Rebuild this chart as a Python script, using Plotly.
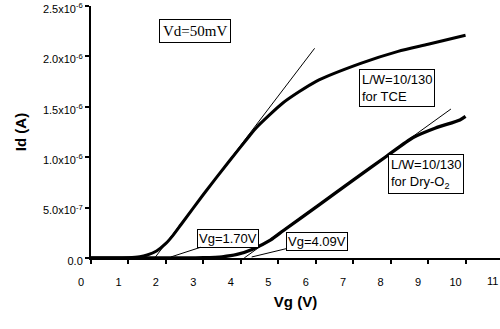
import plotly.graph_objects as go

# ---- data ----
vg_tce = [0, 0.5, 1.0, 1.3, 1.5, 1.75, 2.0, 2.2, 2.4, 3.0, 3.7, 4.24, 4.42, 5.13, 6.0, 7.2, 8.2, 9.0, 10.0]
id_tce = [0, 0, 0.003e-6, 0.012e-6, 0.03e-6, 0.07e-6, 0.145e-6, 0.23e-6, 0.33e-6, 0.63e-6,
          0.965e-6, 1.215e-6, 1.295e-6, 1.54e-6, 1.75e-6, 1.93e-6, 2.05e-6, 2.12e-6, 2.21e-6]

vg_dry = [0, 2.5, 3.0, 3.5, 3.9, 4.3, 4.8, 5.13, 6.1, 7.0, 7.9, 8.6, 9.2, 9.85, 10.0]
id_dry = [0, 0, 0.003e-6, 0.012e-6, 0.035e-6, 0.085e-6, 0.18e-6, 0.27e-6, 0.53e-6, 0.772e-6,
          1.012e-6, 1.195e-6, 1.29e-6, 1.37e-6, 1.405e-6]

tan_tce_x = [1.70, 5.97]
tan_tce_y = [0, 2.08e-6]
tan_dry_x = [4.09, 9.61]
tan_dry_y = [0, 1.478e-6]

x_ticks = list(range(0, 12))
y_tickvals = [0, 0.5e-6, 1.0e-6, 1.5e-6, 2.0e-6, 2.5e-6]
y_ticktext = ["0.0", "5.0x10<sup>-7</sup>", "1.0x10<sup>-6</sup>", "1.5x10<sup>-6</sup>",
              "2.0x10<sup>-6</sup>", "2.5x10<sup>-6</sup>"]

XMAX = 10.92
SANS = "Liberation Sans, Arial, sans-serif"
SERIF = "Liberation Serif, Times New Roman, serif"

fig = go.Figure()
fig.add_trace(go.Scatter(x=tan_tce_x, y=tan_tce_y, mode="lines",
                         line=dict(color="black", width=1), showlegend=False))
fig.add_trace(go.Scatter(x=tan_dry_x, y=tan_dry_y, mode="lines",
                         line=dict(color="black", width=1), showlegend=False))
fig.add_trace(go.Scatter(x=vg_tce, y=id_tce, mode="lines",
                         line=dict(color="black", width=3, shape="spline", smoothing=0.6),
                         showlegend=False))
fig.add_trace(go.Scatter(x=vg_dry, y=id_dry, mode="lines",
                         line=dict(color="black", width=3.3, shape="spline", smoothing=0.6),
                         showlegend=False))

box = dict(bordercolor="black", borderwidth=1, bgcolor="white", showarrow=False,
           xanchor="center", yanchor="middle", align="left")
ann = [
    dict(x=2.77, y=2.255e-6, text="Vd=50mV", font=dict(family=SERIF, size=15, color="black"),
         borderpad=3, **box),
    dict(x=8.17, y=1.685e-6, text="L/W=10/130<br>for TCE", font=dict(family=SANS, size=13, color="black"),
         borderpad=2, **box),
    dict(x=8.95, y=0.83e-6, text="L/W=10/130<br>for Dry-O<sub>2</sub>",
         font=dict(family=SANS, size=13, color="black"), borderpad=2, **box),
]
for tx, ty, tipx, text in [(3.67, 0.196e-6, 2.13, "Vg=1.70V"), (6.04, 0.167e-6, 4.29, "Vg=4.09V")]:
    ann.append(dict(x=tipx, y=0.01e-6, ax=tx, ay=ty, axref="x", ayref="y", text=text,
                    showarrow=True, arrowhead=0, arrowwidth=1, arrowcolor="black",
                    bordercolor="black", borderwidth=1, bgcolor="white", borderpad=1,
                    font=dict(family=SANS, size=13, color="black")))
# tick label "11" sits just past the drawn axis range
ann.append(dict(x=11 / XMAX, xref="paper", y=0, yref="paper", xshift=-10, yshift=-23,
                text="11", showarrow=False, font=dict(family=SANS, size=11, color="black"),
                xanchor="center", yanchor="middle"))

fig.update_layout(
    width=500, height=329,
    margin=dict(l=91, r=0, t=6, b=71),
    paper_bgcolor="white", plot_bgcolor="white",
    annotations=ann,
    font=dict(family=SANS, color="black"),
    xaxis=dict(range=[0, XMAX], tickvals=x_ticks, ticktext=[str(v) for v in x_ticks],
               showgrid=False, zeroline=False, showline=True, linecolor="black", linewidth=2,
               ticks="outside", ticklen=4, tickwidth=1.5, tickcolor="black",
               tickfont=dict(family=SANS, size=11, color="black"),
               ticklabelshift=-10, ticklabelstandoff=9,
               title=dict(text="<b>Vg (V)</b>", font=dict(family=SANS, size=15, color="black"),
                          standoff=9)),
    yaxis=dict(range=[0, 2.5001e-6], tickvals=y_tickvals, ticktext=y_ticktext,
               showgrid=False, zeroline=False, showline=True, linecolor="black", linewidth=2,
               ticks="outside", ticklen=4, tickwidth=1.5, tickcolor="black",
               tickfont=dict(family=SANS, size=11, color="black"),
               ticklabelshift=3, ticklabeloverflow="allow",
               title=dict(text="<b>Id (A)</b>", font=dict(family=SANS, size=15, color="black"),
                          standoff=13)),
)

fig.write_html("out.html")
